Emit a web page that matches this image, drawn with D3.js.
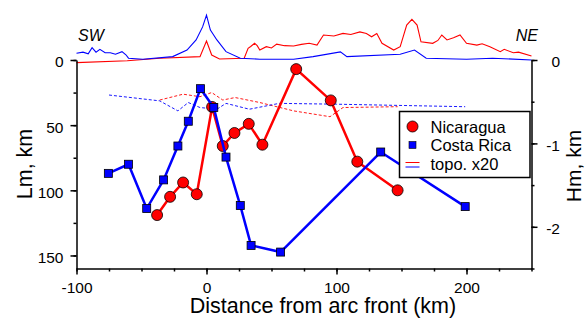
<!DOCTYPE html>
<html>
<head>
<meta charset="utf-8">
<script src="https://cdn.jsdelivr.net/npm/d3@7"></script>
<style>
  body { margin: 0; background: #fff; }
  text { font-family: "Liberation Sans", Arial, Helvetica, sans-serif; fill: #000; }
</style>
</head>
<body>
<div id="chart"></div>
<script>
// Nicaragua Lm (km) vs distance from arc front (km)
var nicDist = [-38, -28, -18, -7.5, 4.3, 12.5, 21.5, 32.5, 43, 69, 95.6, 116, 147];
var nicLm   = [119, 105, 94, 103, 36, 66, 56, 49, 65, 7, 31, 78, 100];

// Costa Rica Lm (km)
var crDist = [-75.5, -60, -46, -33, -22, -14, -4.6, 5.6, 15, 26, 34.3, 57, 134, 199];
var crLm   = [87, 80, 114, 92, 66, 47, 22, 36.5, 74.5, 111.7, 142.3, 147.4, 70.6, 112.5];

// Hm (km), dashed profiles
var nicHmDist = [-36, -18, -5, 4, 12.5, 22, 41, 67, 95, 105, 147];
var nicHm     = [-0.48, -0.41, -0.44, -0.39, -0.48, -0.45, -0.51, -0.61, -0.68, -0.57, -0.56];
var crHmDist  = [-75, -36, -22, -14, -5, 8, 15, 33, 56, 100, 199];
var crHm      = [-0.42, -0.49, -0.61, -0.51, -0.57, -0.59, -0.52, -0.59, -0.52, -0.53, -0.56];

// topography (km), drawn x20 above the frame
var nicTopoDist = [-100, -61, -36, -5, 0, 4, 10, 29, 32, 34, 37, 39, 41, 46, 50, 54, 60, 67, 73, 79, 85,
                   90, 98, 105, 111, 118, 123, 127, 131, 135, 144, 149, 154, 158, 162, 165, 174, 178,
                   181, 185, 190, 195, 200, 208, 212, 218, 226, 229, 236, 240, 250];
var nicTopo     = [-0.10, -0.03, 0.07, 0.13, 0.73, 0.19, 0.04, 0.07, 0.45, 0.52, 0.64, 0.55, 0.38, 0.51,
                   0.46, 0.61, 0.55, 0.54, 0.60, 0.64, 0.57, 0.96, 0.92, 1.02, 0.98, 1.08, 1.02, 0.89,
                   1.02, 0.64, 0.38, 0.51, 1.34, 1.56, 1.34, 0.70, 0.64, 0.75, 0.96, 0.77, 0.85, 0.96,
                   0.64, 0.57, 0.62, 0.51, 0.32, 0.41, 0.28, 0.30, 0.15];
var crTopoDist  = [-100, -95, -91, -88, -85, -82, -78, -74, -70, -65, -62, -60, -49, -26, -15, -8, -3,
                   0, 3, 8, 15, 26, 41, 67, 82, 103, 108, 149, 160, 169, 200, 220, 250];
var crTopo      = [0.26, 0.30, 0.24, 0.47, 0.30, 0.41, 0.28, 0.28, 0.22, 0.32, 0.20, 0.07, 0.03, 0.13,
                   0.38, 0.77, 1.27, 1.72, 1.15, 0.77, 0.32, 0.07, 0.03, 0.03, 0.13, 0.31, 0.13, 0.22,
                   0.38, 0.07, 0.03, 0.07, 0.0];

var xTicks = [-100, 0, 100, 200];
var xMinor = d3.range(-100, 251, 25);
var lmTicks = [0, 50, 100, 150];
var lmMinor = [0, 25, 50, 75, 100, 125, 150];
var hmTicks = [0, -1, -2];
var hmMinor = [0, -0.5, -1, -1.5, -2, -2.5];

var legendLabels = ["Nicaragua", "Costa Rica", "topo. x20"];

var W = 587, H = 323;
var frameL = 76.5, frameR = 531.5, frameT = 60, frameB = 268.5;

var svg = d3.select("#chart").append("svg")
  .attr("width", W).attr("height", H);

var x = d3.scaleLinear().domain([-100, 250]).range([frameL, frameR]);
var lm = d3.scaleLinear().domain([0, 160]).range([frameT, frameB]);
var hm = d3.scaleLinear().domain([0, -2.5]).range([frameT, frameB]);

var red = "#ff0000", blue = "#0000ff";

// topography above the frame
function topoLine(dist, vals) {
  return d3.line()
    .x(function(d, i) { return x(dist[i]); })
    .y(function(d) { return lm(-20 * d); })(vals);
}
svg.append("path").attr("d", topoLine(nicTopoDist, nicTopo))
  .attr("fill", "none").attr("stroke", red).attr("stroke-width", 1.1);
svg.append("path").attr("d", topoLine(crTopoDist, crTopo))
  .attr("fill", "none").attr("stroke", blue).attr("stroke-width", 1.1);

// dashed Hm profiles
function hmLine(dist, vals) {
  return d3.line()
    .x(function(d, i) { return x(dist[i]); })
    .y(function(d) { return hm(d); })(vals);
}
svg.append("path").attr("d", hmLine(nicHmDist, nicHm))
  .attr("fill", "none").attr("stroke", red).attr("stroke-width", 0.9)
  .attr("stroke-dasharray", "3,2");
svg.append("path").attr("d", hmLine(crHmDist, crHm))
  .attr("fill", "none").attr("stroke", blue).attr("stroke-width", 0.9)
  .attr("stroke-dasharray", "3,2");

// axes
function styleAxis(g) {
  g.selectAll("path, line").attr("stroke", "#000").attr("stroke-width", 1.5);
  g.selectAll("text").style("font-size", "15.5px").attr("fill", "#000");
}
var intFmt = function(d) { return String(d); };

svg.append("g").attr("transform", "translate(0," + frameB + ")")
  .call(d3.axisBottom(x).tickValues(xMinor).tickSize(3).tickSizeOuter(0).tickFormat(""))
  .call(styleAxis);
svg.append("g").attr("transform", "translate(0," + frameB + ")")
  .call(d3.axisBottom(x).tickValues(xTicks).tickSize(6).tickSizeOuter(0).tickPadding(7)
    .tickFormat(intFmt))
  .call(styleAxis)
  .call(function(g) { g.select(".domain").remove(); });

svg.append("g").attr("transform", "translate(" + frameL + ",0)")
  .call(d3.axisLeft(lm).tickValues(lmMinor).tickSize(3).tickSizeOuter(0).tickFormat(""))
  .call(styleAxis);
svg.append("g").attr("transform", "translate(" + frameL + ",0)")
  .call(d3.axisLeft(lm).tickValues(lmTicks).tickSize(6).tickSizeOuter(0).tickPadding(7)
    .tickFormat(intFmt))
  .call(styleAxis)
  .call(function(g) { g.select(".domain").remove(); g.selectAll("text").attr("dy", "0.45em"); });

svg.append("g").attr("transform", "translate(" + frameR + ",0)")
  .call(d3.axisRight(hm).tickValues(hmMinor).tickSize(3).tickSizeOuter(0).tickFormat(""))
  .call(styleAxis);
svg.append("g").attr("transform", "translate(" + frameR + ",0)")
  .call(d3.axisRight(hm).tickValues(hmTicks).tickSize(6).tickSizeOuter(0).tickFormat(intFmt))
  .call(styleAxis)
  .call(function(g) {
    g.select(".domain").remove();
    g.selectAll("text").attr("x", 28.5).attr("text-anchor", "end").attr("dy", "0.45em");
  });

// axis titles
svg.append("text").attr("x", (frameL + frameR) / 2 + 19).attr("y", 313)
  .attr("text-anchor", "middle").style("font-size", "21.5px")
  .text("Distance from arc front (km)");
svg.append("text").attr("transform", "translate(32,164) rotate(-90)")
  .attr("text-anchor", "middle").style("font-size", "21.5px").text("Lm, km");
svg.append("text").attr("transform", "translate(581,166) rotate(-90)")
  .attr("text-anchor", "middle").style("font-size", "21px").text("Hm, km");

// SW / NE
svg.append("text").attr("x", 78).attr("y", 41).style("font-size", "16px")
  .style("font-style", "italic").text("SW");
svg.append("text").attr("x", 538).attr("y", 41).attr("text-anchor", "end").style("font-size", "16px")
  .style("font-style", "italic").text("NE");

// Nicaragua series
var nicPts = nicDist.map(function(d, i) { return [x(d), lm(nicLm[i])]; });
svg.append("path").attr("d", d3.line()(nicPts))
  .attr("fill", "none").attr("stroke", red).attr("stroke-width", 2.5);
svg.selectAll(".nic").data(nicPts).enter().append("circle")
  .attr("class", "nic")
  .attr("cx", function(d) { return d[0]; })
  .attr("cy", function(d) { return d[1]; })
  .attr("r", 5.5)
  .attr("fill", red).attr("stroke", "#000").attr("stroke-width", 0.8);

// Costa Rica series
var crPts = crDist.map(function(d, i) { return [x(d), lm(crLm[i])]; });
svg.append("path").attr("d", d3.line()(crPts))
  .attr("fill", "none").attr("stroke", blue).attr("stroke-width", 2.5);
svg.selectAll(".cr").data(crPts).enter().append("rect")
  .attr("class", "cr")
  .attr("x", function(d) { return d[0] - 4; })
  .attr("y", function(d) { return d[1] - 4; })
  .attr("width", 8).attr("height", 8)
  .attr("fill", blue).attr("stroke", "#000").attr("stroke-width", 0.8);

// legend
var lg = svg.append("g").attr("transform", "translate(399.5,111.5)");
lg.append("rect").attr("width", 130.5).attr("height", 66)
  .attr("fill", "#fff").attr("stroke", "#000").attr("stroke-width", 1.5);
lg.append("circle").attr("cx", 13).attr("cy", 15).attr("r", 5.5)
  .attr("fill", red).attr("stroke", "#000").attr("stroke-width", 0.8);
lg.append("rect").attr("x", 9.5).attr("y", 30).attr("width", 7).attr("height", 7)
  .attr("fill", blue).attr("stroke", "#000").attr("stroke-width", 0.6);
lg.append("line").attr("x1", 6).attr("x2", 20).attr("y1", 51).attr("y2", 51)
  .attr("stroke", red).attr("stroke-width", 1);
lg.append("line").attr("x1", 6).attr("x2", 20).attr("y1", 55.5).attr("y2", 55.5)
  .attr("stroke", blue).attr("stroke-width", 1);
lg.selectAll(".lgt").data(legendLabels).enter().append("text")
  .attr("class", "lgt")
  .attr("x", 31)
  .attr("y", function(d, i) { return 21 + i * 18.5; })
  .style("font-size", "16.5px")
  .text(function(d) { return d; });
</script>
</body>
</html>
